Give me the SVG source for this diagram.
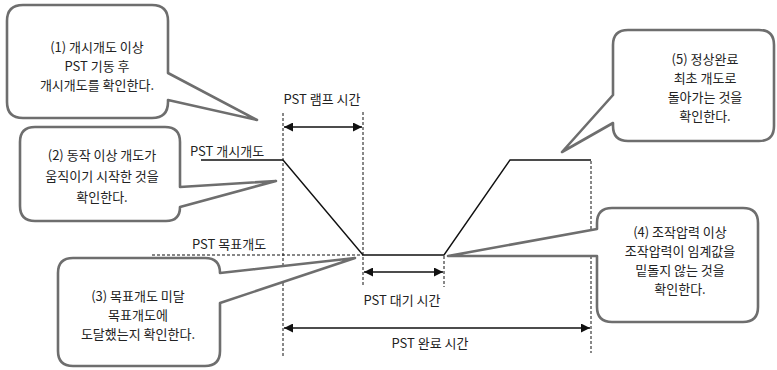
<svg xmlns="http://www.w3.org/2000/svg" width="777" height="370" viewBox="0 0 777 370">
<style>
text{font-family:"Noto Sans CJK KR","Noto Sans",sans-serif;font-size:13px;fill:#222}
.c{text-anchor:middle}
.bubble{fill:#fff;stroke:#6e6e6e;stroke-width:2.6;stroke-linejoin:round}
.solid{fill:none;stroke:#111;stroke-width:1.4}
.dash{fill:none;stroke:#111;stroke-width:1;stroke-dasharray:3 2}
.arr{fill:none;stroke:#111;stroke-width:1.6;marker-start:url(#ah);marker-end:url(#ah)}
</style>
<defs>
<marker id="ah" viewBox="0 0 10 10" refX="10" refY="5" markerWidth="9" markerHeight="9" markerUnits="userSpaceOnUse" orient="auto-start-reverse">
<path d="M0,0 L10,5 L0,10 Z" fill="#111"/>
</marker>
</defs>
<rect width="777" height="370" fill="#fff"/>
<g id="connectors">
<line class="dash" x1="283" y1="113" x2="283" y2="358"/>
<line class="dash" x1="363" y1="112" x2="363" y2="287"/>
<line class="dash" x1="444" y1="256" x2="444" y2="287"/>
<line class="dash" x1="591" y1="161" x2="591" y2="353"/>
<line class="dash" x1="152" y1="255" x2="363" y2="255"/>
<polyline class="solid" points="201,160 283,160 363,255 444,255 510,160 591,160"/>
<line class="arr" x1="284" y1="127" x2="362" y2="127"/>
<line class="arr" x1="364" y1="272" x2="443" y2="272"/>
<line class="arr" x1="284" y1="328" x2="590" y2="328"/>
</g>
<g id="label-ramp"><text class="c" x="322" y="104">PST 램프 시간</text></g>
<g id="label-start"><text x="190" y="156">PST 개시개도</text></g>
<g id="label-target"><text x="192" y="249">PST 목표개도</text></g>
<g id="label-wait"><text class="c" x="402" y="305">PST 대기 시간</text></g>
<g id="label-complete"><text class="c" x="430" y="348">PST 완료 시간</text></g>
<g id="callout1">
<path class="bubble" d="M23,5 H152 Q168,5 168,21 V73 L257,120 L168,100 V102 Q168,118 152,118 H23 Q7,118 7,102 V21 Q7,5 23,5 Z"/>
<text class="c" x="97" y="52">(1) 개시개도 이상</text>
<text class="c" x="97" y="71">PST 기동 후</text>
<text class="c" x="97" y="90">개시개도를 확인한다.</text>
</g>
<g id="callout2">
<path class="bubble" d="M35,127 H165 Q180,127 180,142 V187 L276,181 L180,207 Q180,221 166,221 H35 Q20,221 20,206 V142 Q20,127 35,127 Z"/>
<text class="c" x="102" y="160">(2) 동작 이상 개도가</text>
<text class="c" x="102" y="181">움직이기 시작한 것을</text>
<text class="c" x="102" y="202">확인한다.</text>
</g>
<g id="callout3">
<path class="bubble" d="M73,258 H205 Q220,258 220,273 L355,258 L220,303 V351 Q220,366 205,366 H73 Q58,366 58,351 V273 Q58,258 73,258 Z"/>
<text class="c" x="138" y="301">(3) 목표개도 미달</text>
<text class="c" x="138" y="320">목표개도에</text>
<text class="c" x="138" y="339">도달했는지 확인한다.</text>
</g>
<g id="callout4">
<path class="bubble" d="M612,208 H743 Q758,208 758,223 V307 Q758,322 743,322 H612 Q597,322 597,307 V256 L448,256 L597,229 V223 Q597,208 612,208 Z"/>
<text class="c" x="680" y="237">(4) 조작압력 이상</text>
<text class="c" x="680" y="256">조작압력이 임계값을</text>
<text class="c" x="680" y="275">밑돌지 않는 것을</text>
<text class="c" x="680" y="294">확인한다.</text>
</g>
<g id="callout5">
<path class="bubble" d="M628,30 H759 Q774,30 774,45 V126 Q774,141 759,141 H628 Q613,141 613,126 V123 L562,152 L613,95 V45 Q613,30 628,30 Z"/>
<text class="c" x="705" y="64">(5) 정상완료</text>
<text class="c" x="705" y="83">최초 개도로</text>
<text class="c" x="705" y="102">돌아가는 것을</text>
<text class="c" x="705" y="121">확인한다.</text>
</g>
</svg>
